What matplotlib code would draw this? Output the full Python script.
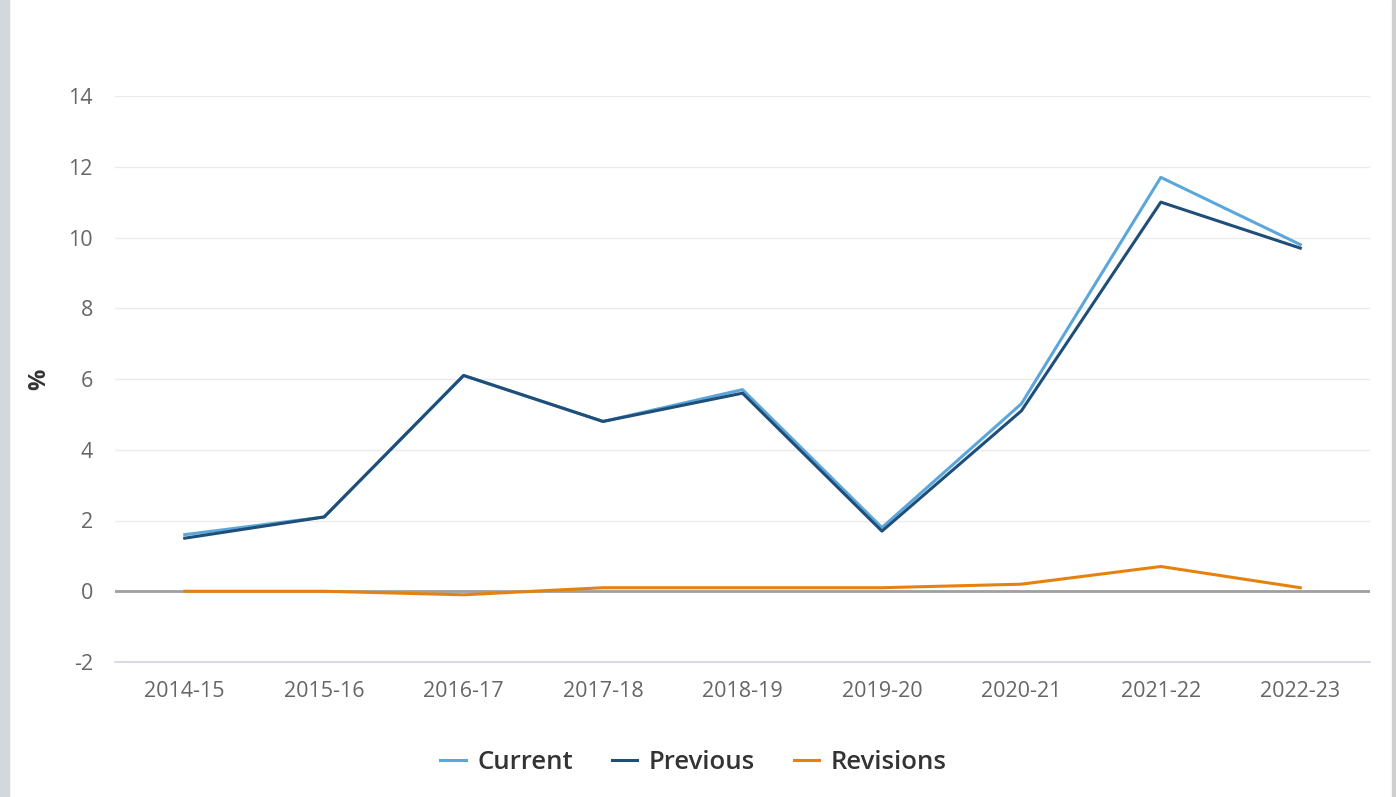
import matplotlib.pyplot as plt
from matplotlib.patches import Rectangle

# data
years = ['2014-15', '2015-16', '2016-17', '2017-18', '2018-19',
         '2019-20', '2020-21', '2021-22', '2022-23']
current = [1.6, 2.1, 6.1, 4.8, 5.7, 1.8, 5.3, 11.7, 9.8]
previous = [1.5, 2.1, 6.1, 4.8, 5.6, 1.7, 5.1, 11.0, 9.7]
revisions = [0.0, 0.0, -0.1, 0.1, 0.1, 0.1, 0.2, 0.7, 0.1]
yticks = [-2, 0, 2, 4, 6, 8, 10, 12, 14]

plt.rcParams['font.family'] = ['Open Sans', 'DejaVu Sans']

fig = plt.figure(figsize=(13.96, 7.97), dpi=100)
W, H = 1396, 797

# grey page edges
fig.patches.append(Rectangle((0, 0), 9 / W, 1, transform=fig.transFigure,
                             color='#d3d8dc', zorder=0))
fig.patches.append(Rectangle((1392 / W, 0), 4 / W, 1, transform=fig.transFigure,
                             color='#cfcfcf', zorder=0))

ax = fig.add_axes([115 / W, 1 - 662 / H, (1370 - 115) / W, (662 - 96) / H])
x = range(len(years))

ax.plot(x, current, color='#5ba7dc', lw=2.2, zorder=3, label='Current')
ax.plot(x, previous, color='#1f4e79', lw=2.2, zorder=4, label='Previous')
ax.plot(x, revisions, color='#e5820f', lw=2.2, zorder=5, label='Revisions')

ax.set_xlim(-0.5, len(years) - 0.5)
ax.set_ylim(-2, 14)
ax.set_yticks(yticks)
ax.set_yticklabels([str(t) for t in yticks])
ax.set_xticks(list(x))
ax.set_xticklabels(years)

ax.grid(axis='y', color='#ebebeb', lw=1)
ax.axhline(0, color='#a0a0a0', lw=2, zorder=2)
ax.set_axisbelow(True)
for s in ['top', 'right', 'left']:
    ax.spines[s].set_visible(False)
ax.spines['bottom'].set_color('#ccd6eb')
ax.spines['bottom'].set_linewidth(1.2)
ax.tick_params(axis='both', length=0, labelsize=15.5, colors='#666666')
ax.tick_params(axis='y', pad=16)
ax.tick_params(axis='x', pad=14)

ax.set_ylabel('%', fontsize=17, fontweight='bold', color='#333333', labelpad=12)

ax.legend(loc='upper center', bbox_to_anchor=(0.461, -0.115), ncol=3, frameon=False,
          prop={'size': 18.5, 'weight': 'semibold'}, handlelength=1.0,
          handletextpad=0.45, columnspacing=1.5, labelcolor='#333333')

fig.savefig('out.png', dpi=100)
